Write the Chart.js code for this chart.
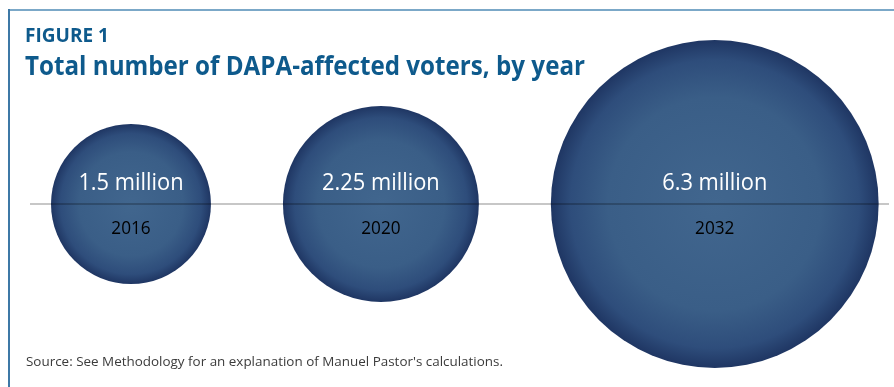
<!DOCTYPE html>
<html>
<head>
<meta charset="utf-8">
<script src="https://cdn.jsdelivr.net/npm/chart.js@4.4.1/dist/chart.umd.min.js"></script>
<style>
  html, body { margin: 0; padding: 0; background: #fff; }
  #wrap { position: relative; width: 894px; height: 387px; overflow: hidden; }
  #chart_box { position: absolute; left: 0; top: 0; width: 894px; height: 387px; }
  .frame_top { position: absolute; left: 8px; top: 9px; width: 900px; height: 2px; background: #7ba8c8; }
  .frame_left { position: absolute; left: 8px; top: 9px; width: 1.5px; height: 400px; background: #3d78a6; }
  .txt { position: absolute; white-space: nowrap; line-height: 1; font-family: "Open Sans", sans-serif; transform-origin: 0 0; }
  #fig_label { left: 25px; top: 26px; font-size: 18.8px; font-weight: 700; color: #0e5a8c; }
  #fig_title { left: 25px; top: 51.5px; font-size: 26.6px; font-weight: 700; color: #0e5a8c; }
  #source { left: 26px; top: 355px; font-size: 13px; font-weight: 400; color: #3b3b3b; }
</style>
</head>
<body>
<div id="wrap">
  <div class="frame_top"></div>
  <div class="frame_left"></div>
  <div id="chart_box"><canvas id="myChart"></canvas></div>
  <div class="txt" id="fig_label" data-w="84">FIGURE 1</div>
  <div class="txt" id="fig_title" data-w="560">Total number of DAPA-affected voters, by year</div>
  <div class="txt" id="source" data-w="477">Source: See Methodology for an explanation of Manuel Pastor's calculations.</div>
</div>
<script>
// data
const years = ["2016", "2020", "2032"];
const voters = [1.5, 2.25, 6.3]; // millions
const valueLabels = ["1.5 million", "2.25 million", "6.3 million"];

// layout
const W = 894;
const H = 387;
const baseY = 204; // horizontal line / circle centres
const firstLeft = 51; // left edge of first circle
const gap = 72; // space between circles
const rScale = 65.3; // px per sqrt(million) -> area proportional

const radii = voters.map((v) => rScale * Math.sqrt(v));
const centers = [];
let edge = firstLeft;
radii.forEach((r) => {
  centers.push(edge + r);
  edge += 2 * r + gap;
});

const bubbles = voters.map((v, i) => ({ x: centers[i], y: baseY, r: radii[i] }));

// squeeze html text to the width it has in the print
document.querySelectorAll(".txt").forEach((el) => {
  const target = parseFloat(el.dataset.w);
  const w = el.getBoundingClientRect().width;
  el.style.transform = "scaleX(" + target / w + ")";
});

function bubbleFill(ctx) {
  const chart = ctx.chart;
  if (!chart.chartArea || !ctx.raw) return "#2f5180";
  const x = chart.scales.x.getPixelForValue(ctx.raw.x);
  const y = chart.scales.y.getPixelForValue(ctx.raw.y);
  const r = ctx.raw.r;
  const g = chart.ctx.createRadialGradient(x, y, 0, x, y, r);
  g.addColorStop(0, "#41668e");
  g.addColorStop(0.65, "#3a5e87");
  g.addColorStop(0.88, "#2e4d7b");
  g.addColorStop(1, "#1f3663");
  return g;
}

function condensedText(c, text, x, y, squeeze) {
  c.save();
  c.translate(x, y);
  c.scale(squeeze, 1);
  c.fillText(text, 0, 0);
  c.restore();
}

const lineAndLabels = {
  id: "lineAndLabels",
  afterDatasetsDraw(chart) {
    const c = chart.ctx;
    const xs = chart.scales.x;
    const ys = chart.scales.y;
    const yLine = ys.getPixelForValue(baseY);

    // grey axis line, drawn over the circles
    c.save();
    c.strokeStyle = "rgba(0,0,0,0.22)";
    c.lineWidth = 2;
    c.beginPath();
    c.moveTo(xs.getPixelForValue(30), yLine);
    c.lineTo(xs.getPixelForValue(889), yLine);
    c.stroke();

    c.textAlign = "center";
    c.textBaseline = "alphabetic";
    bubbles.forEach((b, i) => {
      const x = xs.getPixelForValue(b.x);
      c.fillStyle = "#ffffff";
      c.font = '400 24px "Open Sans"';
      condensedText(c, valueLabels[i], x, yLine - 14, 0.91);
      c.fillStyle = "#000000";
      c.font = '400 18.5px "Open Sans"';
      condensedText(c, years[i], x, yLine + 30, 0.93);
    });
    c.restore();
  },
};

const config = {
  type: "bubble",
  data: {
    labels: years,
    datasets: [
      {
        label: "DAPA-affected voters",
        data: bubbles,
        backgroundColor: bubbleFill,
        borderWidth: 0,
        hoverBorderWidth: 0,
        hoverRadius: 0,
        clip: false,
      },
    ],
  },
  options: {
    responsive: true,
    maintainAspectRatio: false,
    animation: false,
    events: [],
    layout: { padding: 0, autoPadding: false },
    plugins: {
      legend: { display: false },
      tooltip: { enabled: false },
      title: { display: false },
    },
    scales: {
      x: { type: "linear", min: 0, max: W, display: false },
      y: { type: "linear", min: 0, max: H, reverse: true, display: false },
    },
  },
  plugins: [lineAndLabels],
};

const myChart = new Chart(document.getElementById("myChart"), config);
</script>
</body>
</html>
